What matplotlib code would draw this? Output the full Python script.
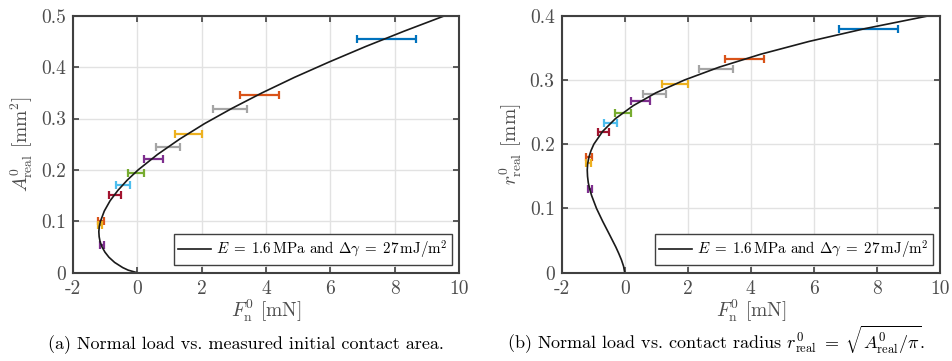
"""
Normal load vs. contact area / contact radius with JKR fit curve.
Saves out.png (952x361).
"""

import matplotlib
matplotlib.use("Agg")
import matplotlib.pyplot as plt

plt.rcParams["font.family"] = "cmr10"
plt.rcParams["mathtext.fontset"] = "cm"
plt.rcParams["axes.formatter.use_mathtext"] = True

# fit curve: area [mm^2] vs. load [mN]
curve_a_area = [0, 0.005, 0.01, 0.02, 0.03, 0.04, 0.05, 0.06, 0.07, 0.08, 0.09,
                0.10, 0.12, 0.14, 0.16, 0.18, 0.20, 0.23, 0.26, 0.29, 0.32,
                0.35, 0.38, 0.41, 0.44, 0.47, 0.50]
curve_a_load = [0, -0.28, -0.45, -0.70, -0.875, -1.00, -1.09, -1.15, -1.18,
                -1.19, -1.175, -1.14, -1.02, -0.84, -0.60, -0.31, 0.03, 0.63,
                1.32, 2.09, 2.95, 3.88, 4.88, 5.96, 7.09, 8.29, 9.55]

# fit curve: radius [mm] vs. load [mN]
curve_b_radius = [0, 0.01, 0.02, 0.03, 0.04, 0.06, 0.08, 0.10, 0.12, 0.13, 0.14,
                  0.15, 0.16, 0.17, 0.18, 0.19, 0.20, 0.22, 0.24, 0.26, 0.28,
                  0.30, 0.32, 0.34, 0.36, 0.38, 0.40]
curve_b_load = [0, -0.037, -0.105, -0.19, -0.283, -0.49, -0.70, -0.895, -1.05,
                -1.11, -1.156, -1.18, -1.189, -1.175, -1.135, -1.07, -0.98,
                -0.70, -0.29, 0.27, 0.99, 1.90, 3.00, 4.31, 5.85, 7.63, 9.66]

# measurements: mean load with min/max span
meas_load_lo = [6.81, 3.19, 2.35, 1.18, 0.59, 0.20, -0.30, -0.65, -0.86, -1.22, -1.23, -1.15]
meas_load_hi = [8.66, 4.41, 3.42, 2.00, 1.32, 0.81, 0.20, -0.23, -0.51, -1.04, -1.08, -1.04]
meas_area = [0.454, 0.346, 0.318, 0.270, 0.244, 0.222, 0.194, 0.171, 0.152, 0.101, 0.092, 0.053]
meas_radius = [0.380, 0.332, 0.3175, 0.293, 0.2776, 0.2672, 0.2485, 0.233, 0.2195, 0.1795, 0.1712, 0.1297]
meas_colors = ["#0072BD", "#D95319", "#A5A5A5", "#EDB120", "#A5A5A5", "#7E2F8E",
               "#77AC30", "#4DBEEE", "#A2142F", "#D95319", "#EDB120", "#7E2F8E"]

x_ticks = [-2, 0, 2, 4, 6, 8, 10]
x_tick_labels = ["-2", "0", "2", "4", "6", "8", "10"]
a_ticks = [0, 0.1, 0.2, 0.3, 0.4, 0.5]
a_tick_labels = ["0", "0.1", "0.2", "0.3", "0.4", "0.5"]
b_ticks = [0, 0.1, 0.2, 0.3, 0.4]
b_tick_labels = ["0", "0.1", "0.2", "0.3", "0.4"]

LEGEND = r"$E\;=\;1.6\,\mathrm{MPa}$ and $\Delta\gamma\;=\;27\,\mathrm{mJ/m^2}$"
AX_COLOR = "#404040"
LABEL_COLOR = "#4d4d4d"


def style_axes(ax, yticks, ylabels, ylim):
    ax.set_xlim(-2, 10)
    ax.set_ylim(*ylim)
    ax.set_xticks(x_ticks)
    ax.set_xticklabels(x_tick_labels)
    ax.set_yticks(yticks)
    ax.set_yticklabels(ylabels)
    ax.grid(True, color="#e2e2e2", linewidth=1.0)
    ax.set_axisbelow(True)
    ax.tick_params(direction="in", length=4, width=1.2, top=True, right=True,
                   colors=AX_COLOR, labelcolor=LABEL_COLOR, labelsize=14, pad=5)
    for sp in ax.spines.values():
        sp.set_color(AX_COLOR)
        sp.set_linewidth(1.5)
    ax.set_xlabel(r"$F^0_\mathrm{n}$ [mN]", fontsize=14, color=LABEL_COLOR, labelpad=0)


def draw_panel(ax, curve_y, curve_x, meas_y):
    for lo, hi, y, c in zip(meas_load_lo, meas_load_hi, meas_y, meas_colors):
        ax.errorbar((lo + hi) / 2, y, xerr=(hi - lo) / 2, fmt="none", ecolor=c,
                    elinewidth=1.6, capsize=3.2, capthick=1.6)
    ax.plot(curve_x, curve_y, color="#1a1a1a", linewidth=1.2, label=LEGEND)
    leg = ax.legend(loc="lower right", fontsize=10.8, fancybox=False, framealpha=1,
                    edgecolor="#404040", borderpad=0.3, handlelength=2.2,
                    handletextpad=0.3, borderaxespad=0.5)
    leg.get_frame().set_linewidth(1.0)


fig = plt.figure(figsize=(9.52, 3.61), dpi=100)
ax_a = fig.add_axes([0.0764, 0.2446, 0.4061, 0.7119])
ax_b = fig.add_axes([0.5900, 0.2446, 0.3974, 0.7119])

draw_panel(ax_a, curve_a_area, curve_a_load, meas_area)
style_axes(ax_a, a_ticks, a_tick_labels, (0, 0.5))
ax_a.set_ylabel(r"$A^0_\mathrm{real}$ [mm$^2$]", fontsize=14, color=LABEL_COLOR, labelpad=4)

draw_panel(ax_b, curve_b_radius, curve_b_load, meas_radius)
style_axes(ax_b, b_ticks, b_tick_labels, (0, 0.4))
ax_b.set_ylabel(r"$r^0_\mathrm{real}$ [mm]", fontsize=14, color=LABEL_COLOR, labelpad=4)

fig.text(0.258, 0.034, "(a) Normal load vs. measured initial contact area.",
         ha="center", va="baseline", fontsize=13)
fig.text(0.752, 0.034,
         r"(b) Normal load vs. contact radius $r^0_\mathrm{real}\;=\;\sqrt{A^0_\mathrm{real}/\pi}$.",
         ha="center", va="baseline", fontsize=13)

fig.savefig("out.png", dpi=100)
